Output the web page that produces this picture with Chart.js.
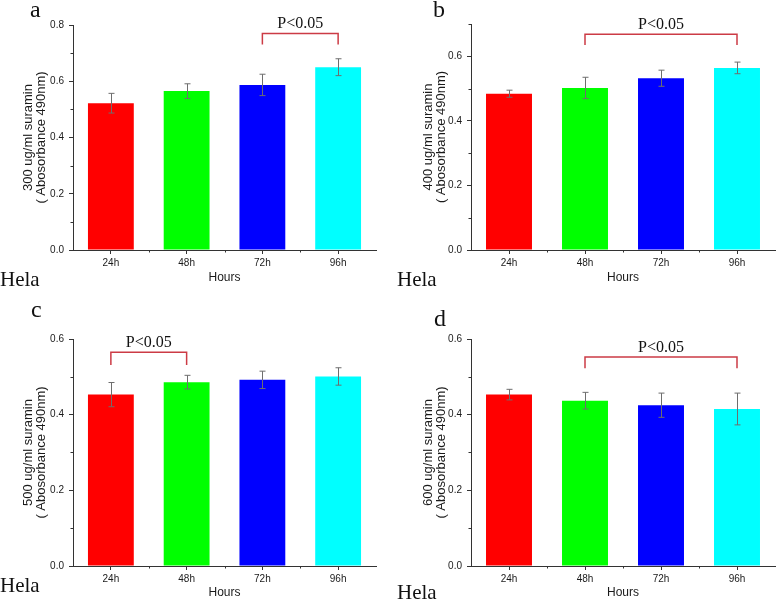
<!DOCTYPE html>
<html>
<head>
<meta charset="utf-8">
<script src="https://cdn.jsdelivr.net/npm/chart.js@4.4.1/dist/chart.umd.min.js"></script>
<style>
  html, body { margin: 0; padding: 0; background: #fff; }
  #wrap { position: relative; width: 778px; height: 603px; overflow: hidden; background: #fff; }
  canvas { position: absolute; }
  .lbl { position: absolute; font-family: "Liberation Serif", "Times New Roman", serif; color: #111; white-space: nowrap; line-height: 1; }
  .panel { font-size: 24px; }
  .cell { font-size: 21px; }
</style>
</head>
<body>
<div id="wrap">
  <canvas id="cA" width="390" height="300" style="left:0;top:0"></canvas>
  <canvas id="cB" width="388" height="300" style="left:390px;top:0"></canvas>
  <canvas id="cC" width="390" height="303" style="left:0;top:300px"></canvas>
  <canvas id="cD" width="388" height="303" style="left:390px;top:300px"></canvas>
  <div class="lbl panel" style="left:30px;top:-3px">a</div>
  <div class="lbl panel" style="left:433px;top:-3px">b</div>
  <div class="lbl panel" style="left:31px;top:297px">c</div>
  <div class="lbl panel" style="left:434px;top:306px">d</div>
  <div class="lbl cell" style="left:0px;top:269px">Hela</div>
  <div class="lbl cell" style="left:397px;top:269px">Hela</div>
  <div class="lbl cell" style="left:0px;top:575px">Hela</div>
  <div class="lbl cell" style="left:397px;top:582px">Hela</div>
</div>
<script>
// ---- data ----
const categories = ['24h', '48h', '72h', '96h'];
const barColors = ['#ff0000', '#00ff00', '#0000ff', '#00ffff'];
const xTitle = 'Hours';
const sigLabel = 'P<0.05';

const titleA = ['300 ug/ml suramin', '( Abosorbance 490nm)'];
const valuesA = [0.522, 0.565, 0.587, 0.650];
const errorsA = [0.035, 0.026, 0.038, 0.030];
const bracketA = [2, 3, 0.770, 0.731];   // from index, to index, top value, leg-end value
const yMaxA = 0.8;

const titleB = ['400 ug/ml suramin', '( Abosorbance 490nm)'];
const valuesB = [0.484, 0.502, 0.532, 0.564];
const errorsB = [0.011, 0.033, 0.025, 0.018];
const bracketB = [1, 3, 0.668, 0.635];
const yMaxB = 0.7;

const titleC = ['500 ug/ml suramin', '( Abosorbance 490nm)'];
const valuesC = [0.453, 0.486, 0.492, 0.501];
const errorsC = [0.032, 0.018, 0.023, 0.023];
const bracketC = [0, 1, 0.565, 0.531];
const yMaxC = 0.6;

const titleD = ['600 ug/ml suramin', '( Abosorbance 490nm)'];
const valuesD = [0.453, 0.437, 0.425, 0.415];
const errorsD = [0.014, 0.022, 0.032, 0.042];
const bracketD = [1, 3, 0.5525, 0.523];
const yMaxD = 0.6;

// ---- drawing ----
const SANS = '"Liberation Sans", Arial, sans-serif';
const SERIF = '"Liberation Serif", "Times New Roman", serif';
const AXIS = '#333333';

const annotPlugin = {
  id: 'annot',
  afterDraw(chart, args, opts) {
    const ctx = chart.ctx;
    const x = chart.scales.x, y = chart.scales.y;
    ctx.save();
    // minor ticks on y
    ctx.strokeStyle = AXIS;
    ctx.lineWidth = 1;
    for (let v = 0.1; v < opts.yMax + 1e-9; v += 0.2) {
      const py = Math.round(y.getPixelForValue(v)) + 0.5;
      ctx.beginPath();
      ctx.moveTo(x.left, py);
      ctx.lineTo(x.left - 2.5, py);
      ctx.stroke();
    }
    // minor ticks on x at category boundaries
    for (let i = 0; i < categories.length - 1; i++) {
      const px = Math.round(x.getPixelForValue(i + 0.5)) + 0.5;
      ctx.beginPath();
      ctx.moveTo(px, y.bottom);
      ctx.lineTo(px, y.bottom + 2.5);
      ctx.stroke();
    }
    // error bars
    const vals = opts.values, errs = opts.errors;
    ctx.strokeStyle = '#6e6e6e';
    ctx.lineWidth = 1;
    for (let i = 0; i < vals.length; i++) {
      const px = Math.round(x.getPixelForValue(i)) + 0.5;
      const hi = y.getPixelForValue(vals[i] + errs[i]);
      const lo = y.getPixelForValue(vals[i] - errs[i]);
      ctx.beginPath();
      ctx.moveTo(px, hi); ctx.lineTo(px, lo);
      ctx.moveTo(px - 3, hi); ctx.lineTo(px + 3, hi);
      ctx.moveTo(px - 3, lo); ctx.lineTo(px + 3, lo);
      ctx.stroke();
    }
    // significance bracket
    const b = opts.bracket;
    const x1 = x.getPixelForValue(b[0]), x2 = x.getPixelForValue(b[1]);
    const yt = y.getPixelForValue(b[2]), yl = y.getPixelForValue(b[3]);
    ctx.strokeStyle = '#cc3b45';
    ctx.lineWidth = 1.5;
    ctx.beginPath();
    ctx.moveTo(x1, yl); ctx.lineTo(x1, yt); ctx.lineTo(x2, yt); ctx.lineTo(x2, yl);
    ctx.stroke();
    ctx.fillStyle = '#111';
    ctx.font = '16px ' + SERIF;
    ctx.textAlign = 'center';
    ctx.textBaseline = 'alphabetic';
    ctx.fillText(sigLabel, (x1 + x2) / 2, yt - 5);
    ctx.restore();
  }
};

function makeChart(id, cfg) {
  const c = document.getElementById(id);
  return new Chart(c, {
    type: 'bar',
    data: {
      labels: categories,
      datasets: [{
        data: cfg.values,
        backgroundColor: barColors,
        borderWidth: 0,
        barPercentage: 0.605,
        categoryPercentage: 1.0
      }]
    },
    options: {
      responsive: false,
      animation: false,
      devicePixelRatio: 1,
      layout: { padding: { top: cfg.top, right: cfg.right, bottom: 0, left: 0 } },
      plugins: {
        legend: { display: false },
        tooltip: { enabled: false },
        annot: { values: cfg.values, errors: cfg.errors, bracket: cfg.bracket, yMax: cfg.yMax }
      },
      scales: {
        x: {
          grid: { display: true, drawOnChartArea: false, drawTicks: true, tickLength: 4, offset: false, color: AXIS },
          border: { display: true, color: AXIS, width: 1 },
          ticks: { color: '#1a1a1a', font: { family: SANS, size: 10 }, padding: 3, maxRotation: 0 },
          title: { display: true, text: xTitle, color: '#1a1a1a', font: { family: SANS, size: 12 }, padding: { top: 0, bottom: cfg.xtPad } },
          afterFit: s => { s.height = cfg.xh; }
        },
        y: {
          min: 0,
          max: cfg.yMax,
          grid: { display: true, drawOnChartArea: false, drawTicks: true, tickLength: 4, color: AXIS },
          border: { display: true, color: AXIS, width: 1 },
          ticks: { stepSize: 0.2, includeBounds: false, color: '#1a1a1a', font: { family: SANS, size: 10 }, padding: 5,
                   callback: v => Number(v).toFixed(1) },
          title: { display: true, text: cfg.title, color: '#1a1a1a', font: { family: SANS, size: 13, lineHeight: 1.0 }, padding: { top: cfg.ytPad, bottom: 0 } },
          afterFit: s => { s.width = cfg.yw; }
        }
      }
    },
    plugins: [annotPlugin]
  });
}

makeChart('cA', { values: valuesA, errors: errorsA, bracket: bracketA, yMax: yMaxA, title: titleA,
  top: 25, right: 14, yw: 73, xh: 50, xtPad: 15, ytPad: 22 });
makeChart('cB', { values: valuesB, errors: errorsB, bracket: bracketB, yMax: yMaxB, title: titleB,
  top: 24, right: 3, yw: 81, xh: 50, xtPad: 15, ytPad: 32 });
makeChart('cC', { values: valuesC, errors: errorsC, bracket: bracketC, yMax: yMaxC, title: titleC,
  top: 39, right: 14, yw: 73, xh: 37, xtPad: 3, ytPad: 22 });
makeChart('cD', { values: valuesD, errors: errorsD, bracket: bracketD, yMax: yMaxD, title: titleD,
  top: 39, right: 3, yw: 81, xh: 37, xtPad: 3, ytPad: 32 });
</script>
</body>
</html>
